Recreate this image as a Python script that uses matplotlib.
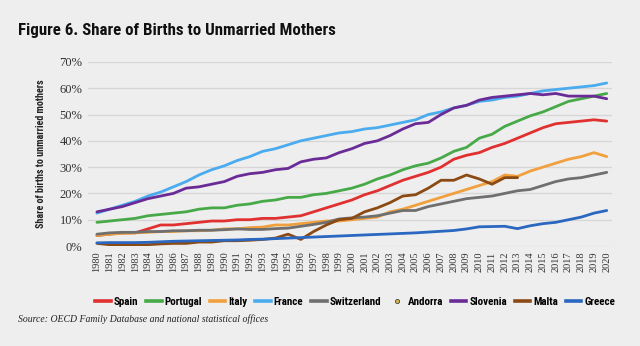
import numpy as np
import matplotlib
matplotlib.use("Agg")
from matplotlib import pyplot as plt
from matplotlib.lines import Line2D

years = list(range(1980, 2021))

spain = [4, 4.5, 5, 5, 6.5, 8, 8, 8.5, 9, 9.5, 9.5, 10, 10, 10.5, 10.5, 11, 11.5, 13, 14.5, 16,
         17.5, 19.5, 21, 23, 25, 26.5, 28, 30, 33, 34.5, 35.5, 37.5, 39, 41, 43, 45, 46.5, 47, 47.5, 48, 47.5]
portugal = [9, 9.5, 10, 10.5, 11.5, 12, 12.5, 13, 14, 14.5, 14.5, 15.5, 16, 17, 17.5, 18.5, 18.5, 19.5, 20, 21,
            22, 23.5, 25.5, 27, 29, 30.5, 31.5, 33.5, 36, 37.5, 41, 42.5, 45.5, 47.5, 49.5, 51, 53, 55, 56, 57, 58]
italy = [4, 4.5, 4.8, 5, 5.2, 5.5, 5.5, 5.8, 5.8, 6, 6.5, 6.5, 7, 7.2, 8, 8, 8.5, 9, 9.5, 9.5,
         10, 10.5, 11, 13, 14, 15.5, 17, 18.5, 20, 21.5, 23, 24.5, 27, 26.5, 28.5, 30, 31.5, 33, 34, 35.5, 34]
france = [12.5, 14, 15.5, 17, 19, 20.5, 22.5, 24.5, 27, 29, 30.5, 32.5, 34, 36, 37, 38.5, 40, 41, 42, 43,
          43.5, 44.5, 45, 46, 47, 48, 50, 51, 52.5, 53.5, 55, 55.5, 56.5, 57, 58, 59, 59.5, 60, 60.5, 61, 62]
switzerland = [4.5, 5, 5.2, 5.2, 5.5, 5.5, 5.8, 5.8, 6, 6, 6.2, 6.5, 6.3, 6.3, 6.6, 6.8, 7.5, 8.2, 9, 10.3,
               10.7, 11, 11.5, 12.5, 13.5, 13.5, 15, 16, 17, 18, 18.5, 19, 20, 21, 21.5, 23, 24.5, 25.5, 26, 27, 28]
slovenia = [13, 14, 15, 16.5, 18, 19, 20, 22, 22.5, 23.5, 24.5, 26.5, 27.5, 28, 29, 29.5, 32, 33, 33.5, 35.5,
            37, 39, 40, 42, 44.5, 46.5, 47, 50, 52.5, 53.5, 55.5, 56.5, 57, 57.5, 58, 57.5, 58, 57, 57, 57, 56]
malta = [1, 0.5, 0.5, 0.5, 0.5, 0.8, 1, 1, 1.5, 1.5, 2, 2, 2.2, 2.5, 3, 4.5, 2.5, 5.5, 8, 10,
         10.5, 13, 14.5, 16.5, 19, 19.5, 22, 25, 25, 27, 25.5, 23.5, 26, 26]
greece = [1.2, 1.3, 1.3, 1.3, 1.4, 1.6, 1.8, 1.9, 2, 2.1, 2.2, 2.3, 2.5, 2.6, 2.8, 3, 3.2, 3.4, 3.6, 3.8,
          4, 4.2, 4.4, 4.6, 4.8, 5, 5.3, 5.6, 5.9, 6.5, 7.3, 7.4, 7.5, 6.6, 7.7, 8.5, 9, 10, 11, 12.5, 13.5]

series = [
    ("Spain", spain, "#e0302f"),
    ("Portugal", portugal, "#47a948"),
    ("Italy", italy, "#f0a03c"),
    ("France", france, "#4aabef"),
    ("Switzerland", switzerland, "#6f6f6f"),
    ("Andorra", None, "#d6b84a"),
    ("Slovenia", slovenia, "#6a2b97"),
    ("Malta", malta, "#8b4a14"),
    ("Greece", greece, "#2a67c0"),
]

bg = "#eeeeee"
narrow = ["Roboto Condensed", "DejaVu Sans"]
serif = ["Liberation Serif", "DejaVu Serif"]

fig = plt.figure(figsize=(6.4, 3.46), dpi=100, facecolor=bg)
ax = fig.add_axes([0.1375, 0.289, 0.8185, 0.532], facecolor=bg)

handles = []
for name, vals, col in series:
    if vals is None:
        # Andorra only shows up in the legend
        handles.append(Line2D([], [], ls="none", marker="o", ms=3, mfc=col, mec="#444444", mew=0.6, label=name))
        continue
    ax.plot(years[:len(vals)], vals, color=col, lw=2.0, solid_capstyle="round", label=name)
    handles.append(Line2D([], [], color=col, lw=2.6, label=name))

ax.set_xlim(1979.3, 2020.4)
ax.set_ylim(0, 70)
ax.set_yticks(range(0, 71, 10))
ax.set_yticklabels([f"{v}%" for v in range(0, 71, 10)], family=serif, fontsize=9, color="#333333")
ax.set_xticks(years)
ax.set_xticklabels([str(y) for y in years], rotation=90, family=serif, fontsize=7.5, color="#333333")
ax.tick_params(length=0, pad=4)
ax.grid(axis="y", color="#d6d6d6", lw=0.9)
ax.set_axisbelow(True)
for s in ax.spines.values():
    s.set_visible(False)

ax.set_ylabel("Share of births to unmarried mothers", family=narrow, fontweight="bold",
              fontsize=7.2, color="#222222", labelpad=10)

fig.text(0.028, 0.913, "Figure 6. Share of Births to Unmarried Mothers", family=narrow,
         fontweight="bold", fontsize=12.2, color="#111111", va="center")

fig.legend(handles=handles, loc="center", bbox_to_anchor=(0.555, 0.127), ncol=9, frameon=False,
           prop={"family": narrow, "weight": "bold", "size": 7.9}, handlelength=1.4,
           handletextpad=0.25, columnspacing=0.75)

fig.text(0.028, 0.078, "Source: OECD Family Database and national statistical offices",
         family=serif, style="italic", fontsize=7, color="#222222", va="center")

fig.savefig("out.png", dpi=100, facecolor=bg)
